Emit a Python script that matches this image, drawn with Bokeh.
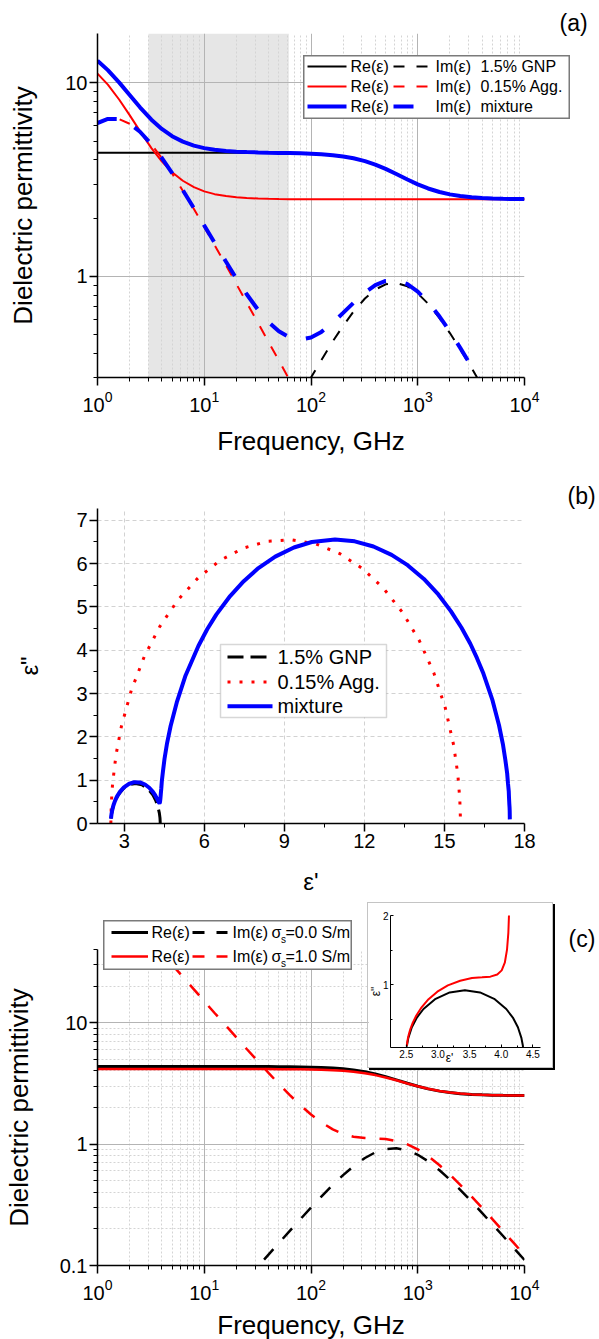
from bokeh.plotting import figure
from bokeh.models import (Range1d, FixedTicker, CustomJSTickFormatter, LogTickFormatter,
                          BoxAnnotation, Label, Arrow)
from bokeh.layouts import column
from bokeh.embed import file_html
from bokeh.resources import INLINE
import math

FONT = "Liberation Sans"
BLUE, RED, BLACK = "#0000ff", "#ff0000", "#000000"

# ---------------- data ----------------
freq_ghz = [1, 1.25, 1.6, 2, 2.5, 3.2, 4, 5, 6.3, 8, 10, 12.5, 16, 20, 25, 32, 40, 50, 63, 80,
            100, 125, 160, 200, 250, 320, 400, 500, 630, 800, 1000, 1250, 1600, 2000, 2500,
            3200, 4000, 5000, 6300, 8000, 10000]

# panel (a): 1.5% GNP
re_gnp = [4.35, 4.35, 4.35, 4.35, 4.35, 4.35, 4.35, 4.35, 4.35, 4.35, 4.35, 4.35, 4.349, 4.348,
          4.347, 4.345, 4.342, 4.337, 4.330, 4.318, 4.300, 4.273, 4.227, 4.165, 4.076, 3.940,
          3.781, 3.592, 3.380, 3.166, 2.990, 2.846, 2.728, 2.653, 2.601, 2.563, 2.541, 2.526,
          2.517, 2.510, 2.507]
im_gnp = [0.0031, 0.0039, 0.0049, 0.0062, 0.0077, 0.0099, 0.0123, 0.0154, 0.0194, 0.0247,
          0.0308, 0.0385, 0.0493, 0.0616, 0.0770, 0.0984, 0.123, 0.153, 0.192, 0.242, 0.300,
          0.369, 0.461, 0.555, 0.657, 0.768, 0.854, 0.910, 0.924, 0.888, 0.816, 0.722, 0.608,
          0.509, 0.420, 0.335, 0.271, 0.219, 0.175, 0.138, 0.111]
# 0.15% Agg.
re_agg = [11.17, 9.79, 8.18, 6.81, 5.63, 4.60, 3.93, 3.45, 3.12, 2.89, 2.75, 2.66, 2.60, 2.56,
          2.54, 2.525, 2.516, 2.510, 2.506, 2.504, 2.503, 2.502, 2.501, 2.50, 2.50, 2.50, 2.50,
          2.50, 2.50, 2.50, 2.50, 2.50, 2.50, 2.50, 2.50, 2.50, 2.50, 2.50, 2.50, 2.50, 2.50]
im_agg = [6.20, 6.51, 6.49, 6.15, 5.59, 4.81, 4.09, 3.40, 2.77, 2.23, 1.80, 1.45, 1.14, 0.912,
          0.731, 0.572, 0.458, 0.367, 0.291, 0.229, 0.183, 0.147, 0.115, 0.092, 0.073, 0.057,
          0.046, 0.037, 0.029, 0.023, 0.018, 0.0147, 0.0115, 0.0092, 0.0073, 0.0057, 0.0046,
          0.0037, 0.0029, 0.0023, 0.0018]
# mixture
re_mix = [13.02, 11.64, 10.03, 8.66, 7.48, 6.45, 5.78, 5.30, 4.97, 4.74, 4.60, 4.51, 4.45, 4.41,
          4.39, 4.37, 4.358, 4.347, 4.337, 4.322, 4.303, 4.275, 4.228, 4.165, 4.076, 3.940,
          3.781, 3.592, 3.380, 3.166, 2.990, 2.846, 2.728, 2.653, 2.601, 2.563, 2.541, 2.526,
          2.517, 2.510, 2.507]
im_mix = [6.20, 6.51, 6.50, 6.16, 5.59, 4.82, 4.10, 3.42, 2.79, 2.25, 1.83, 1.49, 1.19, 0.974,
          0.808, 0.670, 0.581, 0.520, 0.483, 0.471, 0.483, 0.516, 0.575, 0.647, 0.730, 0.825,
          0.900, 0.947, 0.953, 0.911, 0.834, 0.736, 0.620, 0.518, 0.427, 0.341, 0.276, 0.222,
          0.178, 0.140, 0.112]
shaded_band_ghz = [3, 62]

# panel (b): Cole-Cole (eps', eps'')
gnp_cole_re = [2.507, 2.532, 2.587, 2.667, 2.771, 2.963, 3.186, 3.425, 3.664, 3.888, 4.079,
               4.183, 4.263, 4.318, 4.341, 4.349, 4.35]
gnp_cole_im = [0.113, 0.239, 0.391, 0.531, 0.654, 0.801, 0.893, 0.925, 0.893, 0.801, 0.654,
               0.531, 0.391, 0.239, 0.129, 0.048, 0.0]
agg_cole_re = [2.50, 2.516, 2.564, 2.694, 2.895, 3.267, 3.751, 4.338, 5.017, 5.775, 6.596, 7.465,
               8.365, 9.279, 10.187, 11.074, 11.921, 12.713, 13.433, 14.068, 14.605, 15.034,
               15.346, 15.501, 15.575, 15.599]
agg_cole_im = [0.0, 0.457, 0.912, 1.585, 2.240, 3.075, 3.850, 4.550, 5.161, 5.672, 6.073, 6.355,
               6.514, 6.546, 6.451, 6.229, 5.887, 5.430, 4.868, 4.210, 3.471, 2.664, 1.805, 1.137,
               0.571, 0.114]
mix_cole_re = [2.507, 2.510, 2.517, 2.526, 2.541, 2.563, 2.601, 2.653, 2.728, 2.846, 2.990, 3.166,
               3.380, 3.592, 3.781, 3.940, 4.076, 4.165, 4.228, 4.275, 4.303, 4.322, 4.337, 4.347,
               4.358, 4.370, 4.390, 4.410, 4.450, 4.510, 4.600, 4.740, 4.970, 5.300, 5.780, 6.110,
               6.450, 6.970, 7.480, 8.030, 8.660, 9.360, 10.03, 10.90, 11.64, 12.34, 13.02, 13.62,
               14.23, 14.77, 15.24, 15.64, 15.97, 16.22, 16.46, 16.80, 17.045, 17.19, 17.28,
               17.35, 17.38, 17.41, 17.42, 17.43, 17.44, 17.445, 17.447, 17.448, 17.449, 17.449,
               17.45]
mix_cole_im = [0.112, 0.140, 0.178, 0.222, 0.276, 0.341, 0.427, 0.518, 0.620, 0.736, 0.834, 0.911,
               0.953, 0.947, 0.900, 0.825, 0.730, 0.647, 0.575, 0.516, 0.483, 0.471, 0.483, 0.520,
               0.581, 0.670, 0.808, 0.974, 1.187, 1.488, 1.830, 2.250, 2.793, 3.416, 4.097, 4.482,
               4.820, 5.249, 5.593, 5.895, 6.160, 6.370, 6.497, 6.554, 6.512, 6.393, 6.199, 5.962,
               5.645, 5.286, 4.902, 4.517, 4.149, 3.816, 3.460, 2.846, 2.267, 1.834, 1.478, 1.160,
               0.931, 0.746, 0.588, 0.467, 0.374, 0.299, 0.234, 0.187, 0.150, 0.117, 0.094]

# panel (c): sigma_s = 0.0 S/m (same as 1.5% GNP) and sigma_s = 1.0 S/m
re_sigma0 = re_gnp
im_sigma0 = im_gnp
re_sigma1 = [4.15, 4.15, 4.15, 4.15, 4.15, 4.15, 4.15, 4.15, 4.15, 4.15, 4.15, 4.15, 4.15, 4.15,
             4.15, 4.15, 4.145, 4.14, 4.135, 4.125, 4.112, 4.091, 4.056, 4.007, 3.937, 3.828,
             3.697, 3.537, 3.351, 3.156, 2.990, 2.851, 2.734, 2.658, 2.604, 2.565, 2.542, 2.527,
             2.517, 2.511, 2.507]
im_sigma1 = [150.0, 120.0, 93.8, 75.0, 60.0, 46.9, 37.5, 30.0, 23.8, 18.8, 15.0, 12.0, 9.42, 7.55,
             6.06, 4.77, 3.85, 3.13, 2.54, 2.08, 1.75, 1.51, 1.32, 1.21, 1.15, 1.12, 1.11, 1.10,
             1.06, 0.995, 0.904, 0.795, 0.669, 0.560, 0.462, 0.369, 0.299, 0.241, 0.192, 0.152,
             0.122]

# tick positions
freq_ticks = [1, 10, 100, 1000, 10000]
b_x_ticks = [3, 6, 9, 12, 15, 18]
b_y_ticks = [0, 1, 2, 3, 4, 5, 6, 7]


def decade_minors(lo, hi):
    return [m * 10.0 ** e for e in range(-2, 5) for m in range(2, 10) if lo <= m * 10.0 ** e <= hi]


def make_fig(fw, fh, bl, br, bt, bb, xr, yr, xtype="linear", ytype="linear", **kw):
    p = figure(frame_width=fw, frame_height=fh, min_border_left=bl, min_border_right=br,
               min_border_top=bt, min_border_bottom=bb, x_range=xr, y_range=yr,
               x_axis_type=xtype, y_axis_type=ytype, output_backend="svg",
               toolbar_location=None, **kw)
    p.outline_line_color = None
    p.background_fill_color = "white"
    p.border_fill_color = "white"
    return p


def style_axes(p, tick_size="20px", label_size="26px", tick_out=8, minor_out=4, lw=1.5,
               tick_in=0, minor_in=0):
    for ax in (p.xaxis[0], p.yaxis[0]):
        ax.axis_line_width = lw
        ax.axis_line_color = BLACK
        ax.major_tick_line_width = lw
        ax.major_tick_line_color = BLACK
        ax.major_tick_out = tick_out
        ax.major_tick_in = tick_in
        ax.minor_tick_line_width = 1
        ax.minor_tick_line_color = BLACK
        ax.minor_tick_out = minor_out
        ax.minor_tick_in = minor_in
        ax.major_label_text_font = FONT
        ax.major_label_text_font_size = tick_size
        ax.major_label_text_color = BLACK
        ax.major_label_standoff = 2
        ax.axis_label_text_font = FONT
        ax.axis_label_text_font_size = label_size
        ax.axis_label_text_font_style = "normal"
        ax.axis_label_text_color = BLACK


def style_grid(grid, ticks, minors, color="#b4b4b4", minor_color=None, dash="solid",
               minor_dash="2 2"):
    grid.ticker = FixedTicker(ticks=ticks, minor_ticks=minors)
    grid.grid_line_color = color
    grid.grid_line_width = 1
    grid.grid_line_dash = dash
    grid.minor_grid_line_color = minor_color
    grid.minor_grid_line_width = 1
    grid.minor_grid_line_dash = minor_dash


def box(p, left, right, top, bottom, color="#7a7a7a"):
    p.add_layout(BoxAnnotation(left=left, right=right, top=top, bottom=bottom,
                               left_units="screen", right_units="screen",
                               top_units="screen", bottom_units="screen",
                               fill_color="white", fill_alpha=1.0,
                               line_color=color, line_width=1.5))


def seg(p, x0, x1, y, color, width, dash="solid"):
    p.add_layout(Arrow(x_start=x0, y_start=y, x_end=x1, y_end=y,
                       start_units="screen", end_units="screen", start=None, end=None,
                       line_color=color, line_width=width, line_dash=dash))


def txt(p, x, y, s, size, align="left", baseline="middle", angle=0.0):
    p.add_layout(Label(x=x, y=y, x_units="screen", y_units="screen", text=s,
                       text_font=FONT, text_font_size=size, text_color=BLACK,
                       text_align=align, text_baseline=baseline, angle=angle))


def overlay(left, top, w, h, outline=None, opaque=False):
    """A small axis-less figure placed at an absolute page position."""
    f = figure(frame_width=w, frame_height=h, min_border=0, x_axis_location=None,
               y_axis_location=None, x_range=Range1d(0, 1), y_range=Range1d(0, 1),
               output_backend="svg", toolbar_location=None)
    for g in f.grid:
        g.visible = False
    f.outline_line_color = outline
    f.outline_line_width = 2
    f.background_fill_color = "white"
    f.background_fill_alpha = 1.0 if opaque else 0.0
    f.border_fill_alpha = 0.0
    f.styles = {"position": "absolute", "left": f"{left}px", "top": f"{top}px"}
    return f


log_y_fmt = CustomJSTickFormatter(code="return tick < 1 ? tick.toFixed(1) : tick.toFixed(0);")

# ================= panel (a) =================
pa = make_fig(427, 344, 97, 75, 33, 81, Range1d(1, 1e4), Range1d(0.3, 18), "log", "log")
style_axes(pa)
pa.xaxis.ticker = FixedTicker(ticks=freq_ticks, minor_ticks=decade_minors(1, 1e4))
pa.xaxis.formatter = LogTickFormatter()
pa.yaxis.ticker = FixedTicker(ticks=[1, 10], minor_ticks=decade_minors(0.3, 18))
pa.yaxis.formatter = log_y_fmt
pa.xaxis.major_label_standoff = 5
pa.xaxis.axis_label = "Frequency, GHz"
pa.yaxis.axis_label = "Dielectric permittivity"
pa.xaxis.axis_label_standoff = 11
pa.yaxis.axis_label_standoff = 24
style_grid(pa.xgrid[0], [10, 100, 1000], decade_minors(1.5, 9999), minor_color="#d4d4d4")
style_grid(pa.ygrid[0], [1, 10], [], minor_color=None)
pa.add_layout(BoxAnnotation(left=shaded_band_ghz[0], right=shaded_band_ghz[1],
                            fill_color="#e6e6e6", fill_alpha=1.0, line_color=None,
                            level="image"))
pa.line(freq_ghz, re_gnp, line_color=BLACK, line_width=2)
pa.line(freq_ghz, im_gnp, line_color=BLACK, line_width=2, line_dash="11 12")
pa.line(freq_ghz, re_agg, line_color=RED, line_width=2)
pa.line(freq_ghz, im_agg, line_color=RED, line_width=2, line_dash="11 12")
pa.line(freq_ghz, re_mix, line_color=BLUE, line_width=4)
pa.line(freq_ghz, im_mix, line_color=BLUE, line_width=4, line_dash="20 20")

# ================= panel (b) =================
pb = make_fig(427, 315, 97, 75, 50, 78, Range1d(2, 18), Range1d(0, 7.27))
style_axes(pb, label_size="24px")
pb.xaxis.ticker = FixedTicker(ticks=b_x_ticks, minor_ticks=[4.5, 7.5, 10.5, 13.5, 16.5])
pb.yaxis.ticker = FixedTicker(ticks=b_y_ticks, minor_ticks=[0.5, 1.5, 2.5, 3.5, 4.5, 5.5, 6.5])
pb.xaxis.axis_label = "ε'"
pb.yaxis.axis_label = 'ε"'
pb.xaxis.axis_label_standoff = 17
pb.yaxis.axis_label_standoff = 30
style_grid(pb.xgrid[0], [3, 6, 9, 12, 15], [], color="#d2d2d2", dash="4 3")
style_grid(pb.ygrid[0], [1, 2, 3, 4, 5, 6, 7], [], color="#d2d2d2", dash="4 3")
pb.line(agg_cole_re, agg_cole_im, line_color=RED, line_width=3, line_dash="3 9")
pb.line(gnp_cole_re, gnp_cole_im, line_color=BLACK, line_width=3, line_dash="14 7")
pb.line(mix_cole_re, mix_cole_im, line_color=BLUE, line_width=4)
# legend (b) (inside the frame)
box(pb, 123, 289, 179, 106)
seg(pb, 130, 175, 166.6, BLACK, 3, "16 7")
txt(pb, 180, 166.6, "1.5% GNP", "20px")
seg(pb, 130, 175, 141.6, RED, 3, "3 9")
txt(pb, 180, 141.6, "0.15% Agg.", "20px")
seg(pb, 130, 175, 117.3, BLUE, 4)
txt(pb, 180, 117.3, "mixture", "20px")

# ================= panel (c) =================
pc = make_fig(427, 316, 97, 75, 48, 74, Range1d(1, 1e4), Range1d(0.1, 40), "log", "log")
style_axes(pc)
pc.xaxis.ticker = FixedTicker(ticks=freq_ticks, minor_ticks=decade_minors(1, 1e4))
pc.xaxis.formatter = LogTickFormatter()
pc.yaxis.ticker = FixedTicker(ticks=[0.1, 1, 10], minor_ticks=decade_minors(0.1, 40))
pc.yaxis.formatter = log_y_fmt
pc.xaxis.major_label_standoff = 5
pc.xaxis.axis_label = "Frequency, GHz"
pc.yaxis.axis_label = "Dielectric permittivity"
pc.xaxis.axis_label_standoff = 7
pc.yaxis.axis_label_standoff = 23
style_grid(pc.xgrid[0], [10, 100, 1000], decade_minors(1.5, 9999), minor_color="#d4d4d4")
style_grid(pc.ygrid[0], [1, 10], decade_minors(0.15, 39), minor_color="#d4d4d4")
pc.line(freq_ghz, re_sigma0, line_color=BLACK, line_width=3)
pc.line(freq_ghz, re_sigma1, line_color=RED, line_width=2.5)
pc.line(freq_ghz, im_sigma0, line_color=BLACK, line_width=2.5, line_dash="14 14")
pc.line(freq_ghz, im_sigma1, line_color=RED, line_width=2.5, line_dash="14 14")

main = column(pa, pb, pc, spacing=0)

# ================= overlays (absolute page positions) =================
# legend (a)
leg_a = overlay(303, 55, 267, 64, outline="#7a7a7a", opaque=True)
rows_a = [(53, BLACK, 2, "11 12", "1.5% GNP"), (33, RED, 2, "11 12", "0.15% Agg."),
          (13, BLUE, 4, "20 20", "mixture")]
for y, c, w, d, name in rows_a:
    seg(leg_a, 4, 43, y, c, w)
    txt(leg_a, 47, y, "Re(ε)", "16px")
    seg(leg_a, 90, 125, y, c, w, d)
    txt(leg_a, 132, y, "Im(ε)", "16px")
    txt(leg_a, 177, y, name, "16px")

# legend (c)
leg_c = overlay(103, 920, 249, 50, outline="#7a7a7a", opaque=True)
for y, c, w, val in [(38, BLACK, 3, "=0.0 S/m"), (14, RED, 2.5, "=1.0 S/m")]:
    seg(leg_c, 8, 44.5, y, c, w)
    txt(leg_c, 48, y, "Re(ε)", "16px")
    seg(leg_c, 89, 124, y, c, w, "12 12")
    txt(leg_c, 129, y, "Im(ε)", "16px")
    txt(leg_c, 168, y, "σ", "16px")
    txt(leg_c, 177.5, y - 7, "s", "10px")
    txt(leg_c, 182, y, val, "16px")

# panel letters
lab_a = overlay(555, 7, 42, 30)
txt(lab_a, 4, 15, "(a)", "23px")
lab_b = overlay(562, 480, 37, 30)
txt(lab_b, 5, 15, "(b)", "23px")
lab_c = overlay(562, 923, 37, 30)
txt(lab_c, 6, 15, "(c)", "23px")

# inset of panel (c)
pin = make_fig(150, 132, 22, 12, 12, 20, Range1d(2.25, 4.62), Range1d(0.1, 2.0))
pin.styles = {"position": "absolute", "left": "367px", "top": "902px",
              "border": "1px solid #c4c4c4", "box-shadow": "2px 2px 0px #000000"}
style_axes(pin, tick_size="10px", label_size="10px", tick_out=0, minor_out=0, lw=1,
           tick_in=3, minor_in=2)
pin.xaxis.ticker = FixedTicker(ticks=[2.5, 3.0, 3.5, 4.0, 4.5], minor_ticks=[2.75, 3.25, 3.75, 4.25])
pin.xaxis.formatter = CustomJSTickFormatter(code="return tick.toFixed(1);")
pin.yaxis.ticker = FixedTicker(ticks=[1, 2], minor_ticks=[0.5, 1.5])
pin.xgrid.visible = False
pin.ygrid.visible = False
pin.line(gnp_cole_re, gnp_cole_im, line_color=BLACK, line_width=2)
pin.line(re_sigma1, im_sigma1, line_color=RED, line_width=2)

inset_xlab = overlay(441, 1049, 16, 16)
txt(inset_xlab, 8, 8, "ε'", "12px", align="center")
inset_ylab = overlay(368, 982, 14, 18)
txt(inset_ylab, 7, 9, 'ε"', "12px", align="center", angle=math.pi / 2)

roots = [main, leg_a, leg_c, lab_a, lab_b, lab_c, pin, inset_xlab, inset_ylab]
open("out.html", "w").write(file_html(roots, INLINE))
